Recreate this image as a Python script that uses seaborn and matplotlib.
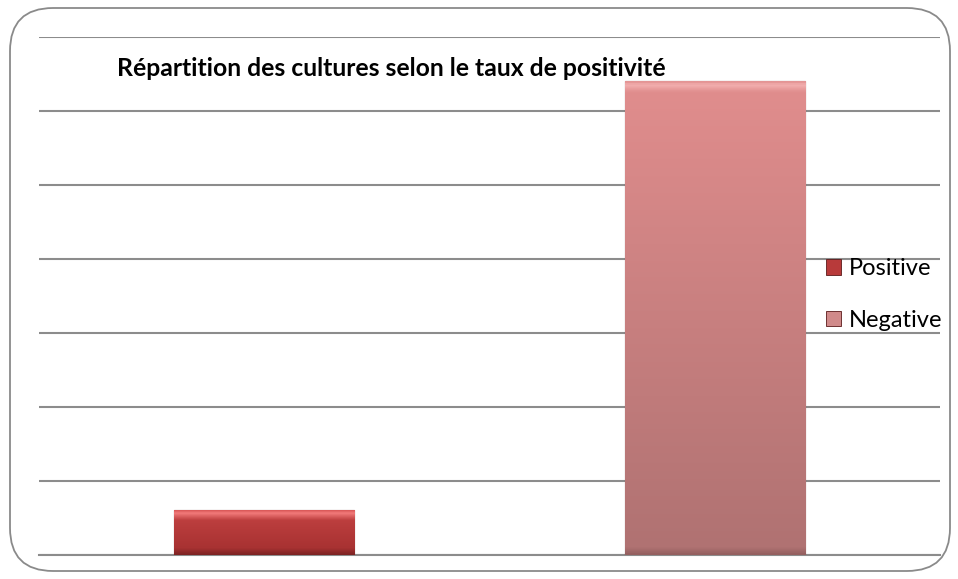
import numpy as np
import pandas as pd
import matplotlib
matplotlib.use("Agg")
import matplotlib.pyplot as plt
from matplotlib.colors import LinearSegmentedColormap
from matplotlib.patches import FancyBboxPatch
import seaborn as sns

categories = ["Positive", "Negative"]
values = [6, 64]
colors = ["#B23636", "#D98888"]
title = "Répartition des cultures selon le taux de positivité"

sns.set_theme(style="white")
plt.rcParams['font.family'] = ['Lato', 'DejaVu Sans']

W, H = 958, 579
fig = plt.figure(figsize=(W/100, H/100), dpi=100)
ax_bottom, ax_top = 554.7, 37
ax = fig.add_axes([39/W, (H-ax_bottom)/H, (940-39)/W, (ax_bottom-ax_top)/H])

df = pd.DataFrame({"Category": categories, "Value": values})
sns.barplot(data=df, x="Category", y="Value", hue="Category",
            palette=colors, width=0.4, ax=ax, legend=True, zorder=3,
            edgecolor="none")

ax.set_xlim(-0.5, 1.5)
ax.set_ylim(0, 70)
ax.set_yticks(np.arange(0, 71, 10))
ax.yaxis.grid(True, color="#8c8c8c", linewidth=1.5, zorder=0)
ax.set_axisbelow(True)
ax.set_xticks([])
ax.set_yticklabels([])
ax.tick_params(left=False, bottom=False)
ax.set_xlabel("")
ax.set_ylabel("")
for s in ["top", "left", "right"]:
    ax.spines[s].set_visible(False)
ax.spines["bottom"].set_color("#8c8c8c")
ax.spines["bottom"].set_linewidth(1.5)

px_per_unit = (ax_bottom - ax_top) / 70.0
styles = [
    dict(top="#D85555", hi="#F27A7A", body_top="#BC3E3E", body_bot="#A83232", low="#7A2222"),
    dict(top="#E49595", hi="#F3B0B0", body_top="#E08D8D", body_bot="#B07272", low="#946060"),
]
for patch, st in zip(ax.patches, styles):
    bb = patch.get_bbox()
    x0, y0, x1, y1 = bb.x0, bb.y0, bb.x1, bb.y1
    hpx = (y1 - y0) * px_per_unit
    stops = [
        (0.0, st["top"]),
        (3.0/hpx, st["hi"]),
        (10.0/hpx, st["body_top"]),
        (1 - 7.0/hpx, st["body_bot"]),
        (1.0, st["low"]),
    ]
    cmap = LinearSegmentedColormap.from_list("g", stops)
    arr = np.linspace(0, 1, 512).reshape(-1, 1)
    im = ax.imshow(arr, cmap=cmap, aspect="auto", extent=(x0, x1, y0, y1),
                   origin="upper", zorder=3.5, interpolation="bilinear")
    im.set_clip_path(patch)
    patch.set_edgecolor("#5a1a1a")
    patch.set_linewidth(0.8)
ax.set_xlim(-0.5, 1.5)
ax.set_ylim(0, 70)

handles, labels = ax.get_legend_handles_labels()
leg = ax.legend(handles, labels, loc="center left",
                bbox_to_anchor=((826-39)/901, (ax_bottom-294.5)/(ax_bottom-ax_top)),
                frameon=False, fontsize=17, handlelength=0.65, handleheight=0.65,
                handletextpad=0.3, labelspacing=1.3, borderpad=0,
                borderaxespad=0, labelcolor="#000000")
for h, c in zip(leg.legend_handles, ["#B83A3A", "#D08A8A"]):
    h.set_facecolor(c)
    h.set_edgecolor("#5a1a1a")
    h.set_linewidth(0.6)

fig.text(117/W, 1 - 68/H, title, fontsize=17.8, fontweight="bold",
         ha="left", va="center", color="#000000")

frame = FancyBboxPatch((10/W, 8/H), (950-10)/W, (571-8)/H,
                       boxstyle="round,pad=0,rounding_size=0.045",
                       transform=fig.transFigure, fill=False,
                       edgecolor="#8a8a8a", linewidth=1.3,
                       mutation_aspect=W/H)
fig.patches.append(frame)

fig.savefig("out.png", dpi=100)
